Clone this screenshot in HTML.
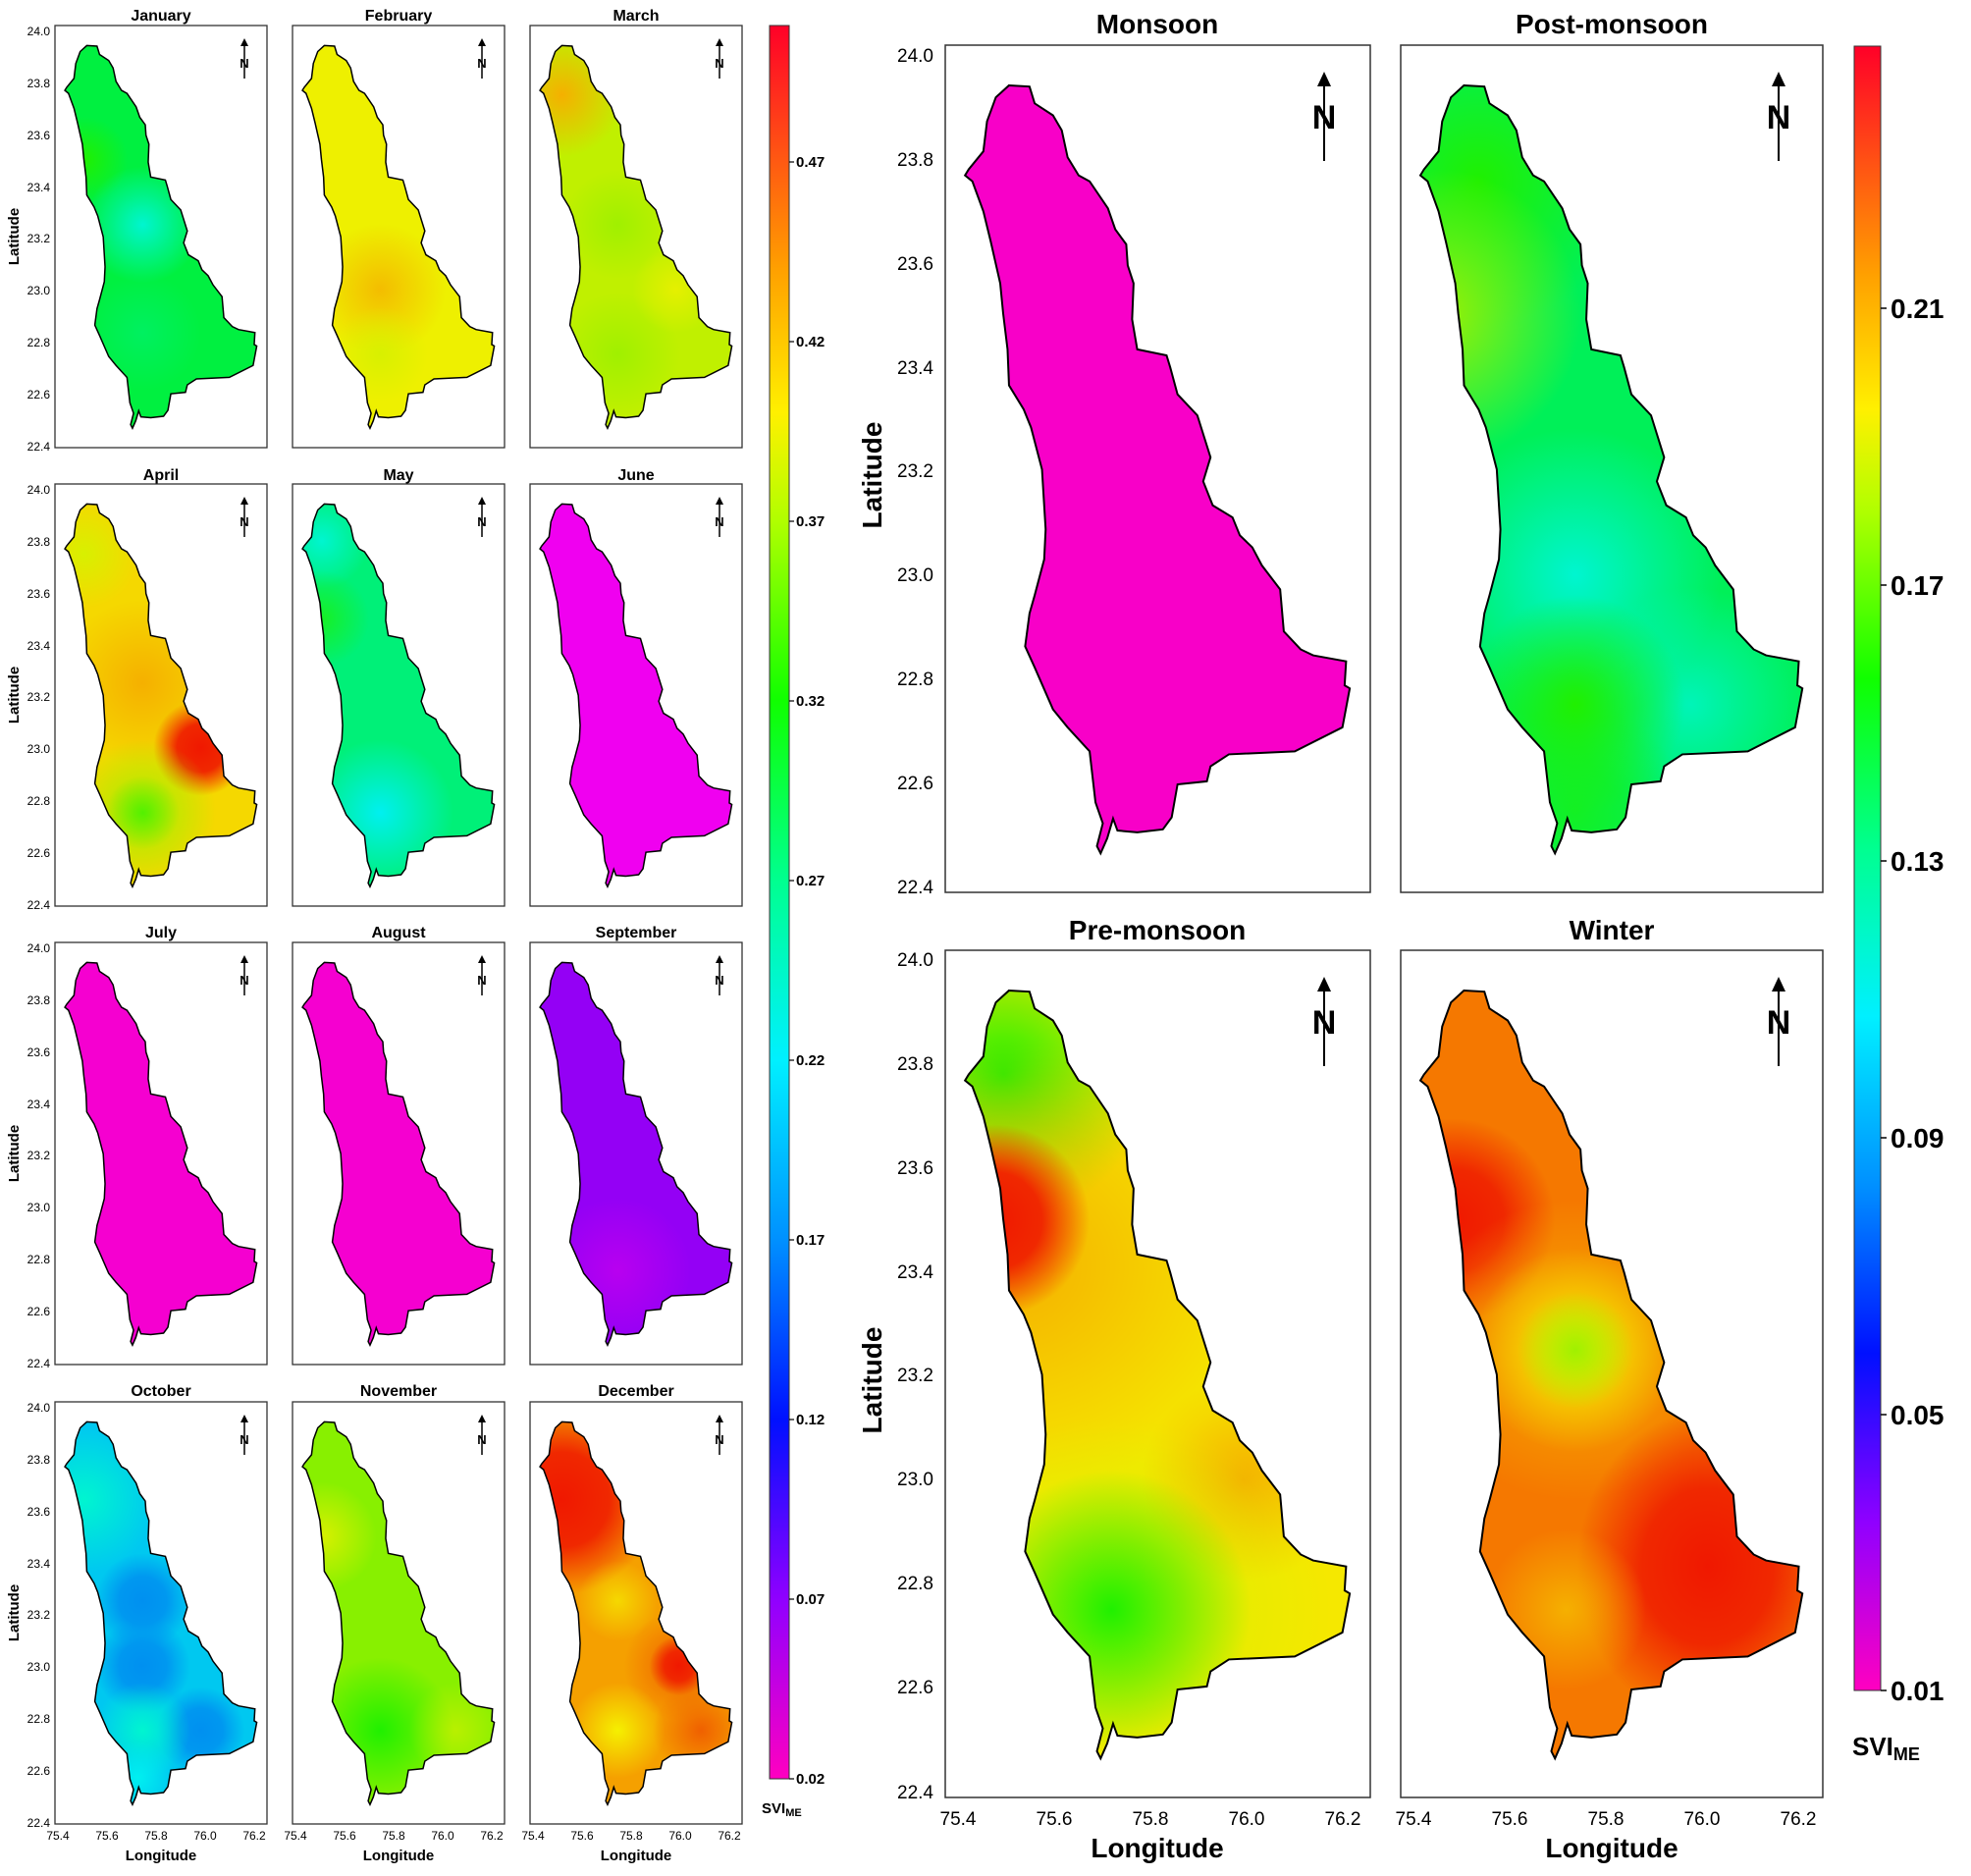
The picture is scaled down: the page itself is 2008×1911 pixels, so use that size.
<!DOCTYPE html>
<html><head><meta charset="utf-8"><style>
html,body{margin:0;padding:0;background:#fff;}
svg{display:block;font-family:"Liberation Sans","DejaVu Sans",sans-serif;}
.st{font-size:16px;font-weight:bold;text-anchor:middle;}
.bt{font-size:28px;font-weight:bold;text-anchor:middle;}
.tk{font-size:12px;}
.btk{font-size:19px;}
.cb{font-size:15px;font-weight:bold;}
.bcb{font-size:28px;font-weight:bold;}
</style></head><body>
<svg width="2008" height="1911" viewBox="0 0 2008 1911" xmlns="http://www.w3.org/2000/svg">
<defs>
<path id="basin" vector-effect="non-scaling-stroke" d="M240,140 L268,142 L275,170 L300,190 L312,215 L320,260 L335,290 L350,300 L375,345 L385,380 L400,405 L402,440 L410,470 L408,530 L415,580 L455,590 L460,610 L470,655 L497,690 L515,760 L505,800 L518,840 L545,860 L555,890 L572,910 L585,940 L610,980 L615,1050 L638,1080 L655,1090 L700,1100 L698,1140 L705,1145 L695,1210 L630,1250 L540,1255 L515,1275 L510,1300 L470,1305 L462,1360 L450,1380 L415,1385 L388,1382 L382,1362 L374,1395 L365,1420 L360,1408 L368,1370 L358,1335 L350,1250 L320,1210 L300,1180 L275,1110 L262,1075 L268,1020 L275,990 L288,930 L290,880 L285,780 L270,710 L260,680 L240,640 L238,580 L232,520 L228,470 L215,400 L205,350 L190,300 L180,290 L185,280 L205,250 L210,200 L222,160 Z"/>
<clipPath id="cp" clipPathUnits="userSpaceOnUse"><use href="#basin"/></clipPath>
<radialGradient id="gCy"><stop offset="0" stop-color="#00f5d0"/><stop offset="1" stop-color="#00f5d0" stop-opacity="0"/></radialGradient>
<radialGradient id="gSg"><stop offset="0" stop-color="#00f080"/><stop offset="1" stop-color="#00f080" stop-opacity="0"/></radialGradient>
<radialGradient id="gGr"><stop offset="0" stop-color="#20f000"/><stop offset="1" stop-color="#20f000" stop-opacity="0"/></radialGradient>
<radialGradient id="gYg"><stop offset="0" stop-color="#a0f000"/><stop offset="1" stop-color="#a0f000" stop-opacity="0"/></radialGradient>
<radialGradient id="gYe"><stop offset="0" stop-color="#f5f000"/><stop offset="1" stop-color="#f5f000" stop-opacity="0"/></radialGradient>
<radialGradient id="gOr"><stop offset="0" stop-color="#f5b000"/><stop offset="1" stop-color="#f5b000" stop-opacity="0"/></radialGradient>
<radialGradient id="gRd"><stop offset="0" stop-color="#f01800"/><stop offset="0.5" stop-color="#f02800"/><stop offset="1" stop-color="#f02800" stop-opacity="0"/></radialGradient>
<radialGradient id="gOR"><stop offset="0" stop-color="#f06000"/><stop offset="1" stop-color="#f06000" stop-opacity="0"/></radialGradient>
<radialGradient id="gBl"><stop offset="0" stop-color="#0090f0"/><stop offset="0.5" stop-color="#0098f0"/><stop offset="1" stop-color="#0098f0" stop-opacity="0"/></radialGradient>
<radialGradient id="gC2"><stop offset="0" stop-color="#00f0f0"/><stop offset="1" stop-color="#00f0f0" stop-opacity="0"/></radialGradient>
<radialGradient id="gPu"><stop offset="0" stop-color="#b800f0"/><stop offset="1" stop-color="#b800f0" stop-opacity="0"/></radialGradient>
<radialGradient id="gLy"><stop offset="0" stop-color="#d8f000"/><stop offset="1" stop-color="#d8f000" stop-opacity="0"/></radialGradient>
<linearGradient id="cbar" x1="0" y1="0" x2="0" y2="1">
<stop offset="0" stop-color="#ff0028"/><stop offset="0.139" stop-color="#ffa000"/><stop offset="0.221" stop-color="#fff000"/><stop offset="0.283" stop-color="#b0ff00"/><stop offset="0.385" stop-color="#10ff00"/><stop offset="0.488" stop-color="#00ff90"/><stop offset="0.59" stop-color="#00f0ff"/><stop offset="0.693" stop-color="#0090ff"/><stop offset="0.795" stop-color="#0010ff"/><stop offset="0.898" stop-color="#9000ff"/><stop offset="1" stop-color="#ff00c0"/>
</linearGradient>
</defs>

<!-- Row 1 -->
<svg x="56" y="26" width="216" height="430" viewBox="153 73 580 1412" preserveAspectRatio="none">
<g clip-path="url(#cp)"><rect x="0" y="0" width="900" height="1600" fill="#00f040"/>
<ellipse cx="233" cy="523" rx="120" ry="146" fill="url(#gGr)"/>
<ellipse cx="393" cy="739" rx="160" ry="195" fill="url(#gCy)"/>
<ellipse cx="393" cy="1100" rx="160" ry="195" fill="url(#gSg)" opacity="0.5"/></g>
<use href="#basin" fill="none" stroke="#000" stroke-width="1.5"/></svg>
<svg x="298" y="26" width="216" height="430" viewBox="153 73 580 1412" preserveAspectRatio="none">
<g clip-path="url(#cp)"><rect width="900" height="1600" fill="#eef000"/>
<ellipse cx="393" cy="956" rx="180" ry="220" fill="url(#gOr)" opacity="0.8"/>
<ellipse cx="393" cy="1172" rx="130" ry="160" fill="url(#gLy)"/></g>
<use href="#basin" fill="none" stroke="#000" stroke-width="1.5"/></svg>
<svg x="540" y="26" width="216" height="430" viewBox="153 73 580 1412" preserveAspectRatio="none">
<g clip-path="url(#cp)"><rect width="900" height="1600" fill="#c0f000"/>
<ellipse cx="240" cy="306" rx="170" ry="207" fill="url(#gOr)"/>
<ellipse cx="393" cy="739" rx="150" ry="183" fill="url(#gYg)"/>
<ellipse cx="393" cy="1172" rx="170" ry="207" fill="url(#gYg)"/>
<ellipse cx="552" cy="956" rx="120" ry="146" fill="url(#gYe)" opacity="0.7"/></g>
<use href="#basin" fill="none" stroke="#000" stroke-width="1.5"/></svg>
<!-- Row 2 -->
<svg x="56" y="493" width="216" height="430" viewBox="153 73 580 1412" preserveAspectRatio="none">
<g clip-path="url(#cp)"><rect width="900" height="1600" fill="#f5d800"/>
<ellipse cx="233" cy="306" rx="150" ry="183" fill="url(#gLy)"/>
<ellipse cx="393" cy="739" rx="230" ry="280" fill="url(#gOr)"/>
<ellipse cx="552" cy="956" rx="130" ry="160" fill="url(#gRd)"/>
<ellipse cx="393" cy="1172" rx="200" ry="244" fill="url(#gYg)"/>
<ellipse cx="393" cy="1172" rx="100" ry="122" fill="url(#gGr)" opacity="0.6"/></g>
<use href="#basin" fill="none" stroke="#000" stroke-width="1.5"/></svg>
<svg x="298" y="493" width="216" height="430" viewBox="153 73 580 1412" preserveAspectRatio="none">
<g clip-path="url(#cp)"><rect width="900" height="1600" fill="#00f078"/>
<ellipse cx="233" cy="263" rx="130" ry="160" fill="url(#gCy)"/>
<ellipse cx="233" cy="523" rx="130" ry="160" fill="url(#gGr)" opacity="0.7"/>
<ellipse cx="393" cy="1172" rx="200" ry="244" fill="url(#gC2)"/></g>
<use href="#basin" fill="none" stroke="#000" stroke-width="1.5"/></svg>
<svg x="540" y="493" width="216" height="430" viewBox="153 73 580 1412" preserveAspectRatio="none">
<g clip-path="url(#cp)"><rect width="900" height="1600" fill="#f000f0"/></g>
<use href="#basin" fill="none" stroke="#000" stroke-width="1.5"/></svg>
<!-- Row 3 -->
<svg x="56" y="960" width="216" height="430" viewBox="153 73 580 1412" preserveAspectRatio="none">
<g clip-path="url(#cp)"><rect width="900" height="1600" fill="#f500d0"/></g>
<use href="#basin" fill="none" stroke="#000" stroke-width="1.5"/></svg>
<svg x="298" y="960" width="216" height="430" viewBox="153 73 580 1412" preserveAspectRatio="none">
<g clip-path="url(#cp)"><rect width="900" height="1600" fill="#f500d0"/></g>
<use href="#basin" fill="none" stroke="#000" stroke-width="1.5"/></svg>
<svg x="540" y="960" width="216" height="430" viewBox="153 73 580 1412" preserveAspectRatio="none">
<g clip-path="url(#cp)"><rect width="900" height="1600" fill="#9400f5"/>
<ellipse cx="393" cy="1172" rx="200" ry="244" fill="url(#gPu)"/></g>
<use href="#basin" fill="none" stroke="#000" stroke-width="1.5"/></svg>
<!-- Row 4 -->
<svg x="56" y="1428" width="216" height="430" viewBox="153 73 580 1412" preserveAspectRatio="none">
<g clip-path="url(#cp)"><rect width="900" height="1600" fill="#00c8f0"/>
<ellipse cx="233" cy="400" rx="200" ry="244" fill="url(#gCy)"/>
<ellipse cx="393" cy="739" rx="130" ry="160" fill="url(#gBl)"/>
<ellipse cx="393" cy="956" rx="130" ry="160" fill="url(#gBl)"/>
<ellipse cx="552" cy="1172" rx="120" ry="146" fill="url(#gBl)"/>
<ellipse cx="393" cy="1172" rx="130" ry="160" fill="url(#gCy)"/>
<ellipse cx="380" cy="1330" rx="100" ry="122" fill="url(#gC2)"/></g>
<use href="#basin" fill="none" stroke="#000" stroke-width="1.5"/></svg>
<svg x="298" y="1428" width="216" height="430" viewBox="153 73 580 1412" preserveAspectRatio="none">
<g clip-path="url(#cp)"><rect width="900" height="1600" fill="#88f000"/>
<ellipse cx="233" cy="523" rx="150" ry="183" fill="url(#gLy)"/>
<ellipse cx="393" cy="1172" rx="200" ry="244" fill="url(#gGr)"/>
<ellipse cx="600" cy="1172" rx="130" ry="160" fill="url(#gLy)" opacity="0.6"/></g>
<use href="#basin" fill="none" stroke="#000" stroke-width="1.5"/></svg>
<svg x="540" y="1428" width="216" height="430" viewBox="153 73 580 1412" preserveAspectRatio="none">
<g clip-path="url(#cp)"><rect width="900" height="1600" fill="#f5a000"/>
<ellipse cx="240" cy="400" rx="260" ry="317" fill="url(#gRd)"/>
<ellipse cx="393" cy="739" rx="110" ry="134" fill="url(#gYe)" opacity="0.7"/>
<ellipse cx="560" cy="956" rx="150" ry="183" fill="url(#gOR)"/>
<ellipse cx="560" cy="956" rx="80" ry="100" fill="url(#gRd)"/>
<ellipse cx="393" cy="1172" rx="130" ry="160" fill="url(#gYe)"/>
<ellipse cx="620" cy="1172" rx="130" ry="160" fill="url(#gOR)"/></g>
<use href="#basin" fill="none" stroke="#000" stroke-width="1.5"/></svg>

<g fill="none" stroke="#333" stroke-width="1.3">
<rect x="56" y="26" width="216" height="430"/><rect x="298" y="26" width="216" height="430"/><rect x="540" y="26" width="216" height="430"/>
<rect x="56" y="493" width="216" height="430"/><rect x="298" y="493" width="216" height="430"/><rect x="540" y="493" width="216" height="430"/>
<rect x="56" y="960" width="216" height="430"/><rect x="298" y="960" width="216" height="430"/><rect x="540" y="960" width="216" height="430"/>
<rect x="56" y="1428" width="216" height="430"/><rect x="298" y="1428" width="216" height="430"/><rect x="540" y="1428" width="216" height="430"/>
</g>
<text class="st" x="164" y="21">January</text><text class="st" x="406" y="21">February</text><text class="st" x="648" y="21">March</text>
<text class="st" x="164" y="489">April</text><text class="st" x="406" y="489">May</text><text class="st" x="648" y="489">June</text>
<text class="st" x="164" y="955">July</text><text class="st" x="406" y="955">August</text><text class="st" x="648" y="955">September</text>
<text class="st" x="164" y="1422">October</text><text class="st" x="406" y="1422">November</text><text class="st" x="648" y="1422">December</text>
<g stroke="#000" stroke-width="1.5">
<line x1="249" y1="46" x2="249" y2="80"/><line x1="491" y1="46" x2="491" y2="80"/><line x1="733" y1="46" x2="733" y2="80"/>
<line x1="249" y1="513" x2="249" y2="547"/><line x1="491" y1="513" x2="491" y2="547"/><line x1="733" y1="513" x2="733" y2="547"/>
<line x1="249" y1="980" x2="249" y2="1014"/><line x1="491" y1="980" x2="491" y2="1014"/><line x1="733" y1="980" x2="733" y2="1014"/>
<line x1="249" y1="1448" x2="249" y2="1482"/><line x1="491" y1="1448" x2="491" y2="1482"/><line x1="733" y1="1448" x2="733" y2="1482"/>
</g>
<g font-size="13" font-weight="bold" text-anchor="middle">
<text x="249" y="69">N</text><text x="491" y="69">N</text><text x="733" y="69">N</text>
<text x="249" y="536">N</text><text x="491" y="536">N</text><text x="733" y="536">N</text>
<text x="249" y="1003">N</text><text x="491" y="1003">N</text><text x="733" y="1003">N</text>
<text x="249" y="1471">N</text><text x="491" y="1471">N</text><text x="733" y="1471">N</text>
</g>
<g fill="#000">
<path d="M245,47 L249,39 L253,47Z"/><path d="M487,47 L491,39 L495,47Z"/><path d="M729,47 L733,39 L737,47Z"/>
<path d="M245,514 L249,506 L253,514Z"/><path d="M487,514 L491,506 L495,514Z"/><path d="M729,514 L733,506 L737,514Z"/>
<path d="M245,981 L249,973 L253,981Z"/><path d="M487,981 L491,973 L495,981Z"/><path d="M729,981 L733,973 L737,981Z"/>
<path d="M245,1449 L249,1441 L253,1449Z"/><path d="M487,1449 L491,1441 L495,1449Z"/><path d="M729,1449 L733,1441 L737,1449Z"/>
</g>
<g class="tk" text-anchor="end">
<text x="51" y="36">24.0</text><text x="51" y="89">23.8</text><text x="51" y="142">23.6</text><text x="51" y="195">23.4</text><text x="51" y="247">23.2</text><text x="51" y="300">23.0</text><text x="51" y="353">22.8</text><text x="51" y="406">22.6</text><text x="51" y="459">22.4</text>
<text x="51" y="503">24.0</text><text x="51" y="556">23.8</text><text x="51" y="609">23.6</text><text x="51" y="662">23.4</text><text x="51" y="714">23.2</text><text x="51" y="767">23.0</text><text x="51" y="820">22.8</text><text x="51" y="873">22.6</text><text x="51" y="926">22.4</text>
<text x="51" y="970">24.0</text><text x="51" y="1023">23.8</text><text x="51" y="1076">23.6</text><text x="51" y="1129">23.4</text><text x="51" y="1181">23.2</text><text x="51" y="1234">23.0</text><text x="51" y="1287">22.8</text><text x="51" y="1340">22.6</text><text x="51" y="1393">22.4</text>
<text x="51" y="1438">24.0</text><text x="51" y="1491">23.8</text><text x="51" y="1544">23.6</text><text x="51" y="1597">23.4</text><text x="51" y="1649">23.2</text><text x="51" y="1702">23.0</text><text x="51" y="1755">22.8</text><text x="51" y="1808">22.6</text><text x="51" y="1861">22.4</text>
</g>
<g class="tk" text-anchor="middle">
<text x="59" y="1874">75.4</text><text x="109" y="1874">75.6</text><text x="159" y="1874">75.8</text><text x="209" y="1874">76.0</text><text x="259" y="1874">76.2</text>
<text x="301" y="1874">75.4</text><text x="351" y="1874">75.6</text><text x="401" y="1874">75.8</text><text x="451" y="1874">76.0</text><text x="501" y="1874">76.2</text>
<text x="543" y="1874">75.4</text><text x="593" y="1874">75.6</text><text x="643" y="1874">75.8</text><text x="693" y="1874">76.0</text><text x="743" y="1874">76.2</text>
</g>
<g font-size="15" font-weight="bold" text-anchor="middle">
<text x="164" y="1895">Longitude</text><text x="406" y="1895">Longitude</text><text x="648" y="1895">Longitude</text>
<text transform="translate(19,241) rotate(-90)">Latitude</text>
<text transform="translate(19,708) rotate(-90)">Latitude</text>
<text transform="translate(19,1175) rotate(-90)">Latitude</text>
<text transform="translate(19,1643) rotate(-90)">Latitude</text>
</g>
<rect x="784" y="26" width="20" height="1786" fill="url(#cbar)" stroke="#333" stroke-width="1"/>
<g stroke="#000" stroke-width="1.2">
<line x1="804" y1="165" x2="809" y2="165"/><line x1="804" y1="348" x2="809" y2="348"/><line x1="804" y1="531" x2="809" y2="531"/><line x1="804" y1="714" x2="809" y2="714"/><line x1="804" y1="897" x2="809" y2="897"/><line x1="804" y1="1080" x2="809" y2="1080"/><line x1="804" y1="1263" x2="809" y2="1263"/><line x1="804" y1="1446" x2="809" y2="1446"/><line x1="804" y1="1629" x2="809" y2="1629"/><line x1="804" y1="1812" x2="809" y2="1812"/>
</g>
<g class="cb">
<text x="811" y="170">0.47</text><text x="811" y="353">0.42</text><text x="811" y="536">0.37</text><text x="811" y="719">0.32</text><text x="811" y="902">0.27</text><text x="811" y="1085">0.22</text><text x="811" y="1268">0.17</text><text x="811" y="1451">0.12</text><text x="811" y="1634">0.07</text><text x="811" y="1817">0.02</text>
<text x="776" y="1847">SVI<tspan font-size="11" dy="3">ME</tspan></text>
</g>

<!-- big panels -->
<svg x="963" y="46" width="433" height="863" viewBox="153 73 580 1412" preserveAspectRatio="none">
<g clip-path="url(#cp)"><rect width="900" height="1600" fill="#f800c8"/></g>
<use href="#basin" fill="none" stroke="#000" stroke-width="2"/></svg>
<svg x="1427" y="46" width="430" height="863" viewBox="153 73 580 1412" preserveAspectRatio="none">
<g clip-path="url(#cp)"><rect width="900" height="1600" fill="#00f058"/>
<ellipse cx="260" cy="300" rx="200" ry="244" fill="url(#gGr)"/>
<ellipse cx="200" cy="523" rx="200" ry="244" fill="url(#gYg)"/>
<ellipse cx="393" cy="956" rx="200" ry="244" fill="url(#gCy)"/>
<ellipse cx="552" cy="1172" rx="160" ry="195" fill="url(#gCy)" opacity="0.8"/>
<ellipse cx="393" cy="1172" rx="150" ry="183" fill="url(#gGr)"/>
<ellipse cx="393" cy="1350" rx="150" ry="183" fill="url(#gGr)" opacity="0.6"/></g>
<use href="#basin" fill="none" stroke="#000" stroke-width="2"/></svg>
<svg x="963" y="968" width="433" height="863" viewBox="153 73 580 1412" preserveAspectRatio="none">
<g clip-path="url(#cp)"><rect width="900" height="1600" fill="#f5e800"/>
<ellipse cx="233" cy="280" rx="200" ry="244" fill="url(#gGr)"/>
<ellipse cx="240" cy="600" rx="360" ry="380" fill="url(#gOr)"/>
<ellipse cx="220" cy="523" rx="130" ry="160" fill="url(#gRd)"/>
<ellipse cx="560" cy="956" rx="140" ry="170" fill="url(#gOr)"/>
<ellipse cx="380" cy="1172" rx="300" ry="320" fill="url(#gLy)"/>
<ellipse cx="380" cy="1172" rx="190" ry="232" fill="url(#gGr)"/></g>
<use href="#basin" fill="none" stroke="#000" stroke-width="2"/></svg>
<svg x="1427" y="968" width="430" height="863" viewBox="153 73 580 1412" preserveAspectRatio="none">
<g clip-path="url(#cp)"><rect width="900" height="1600" fill="#f57800"/>
<ellipse cx="225" cy="523" rx="140" ry="170" fill="url(#gRd)"/>
<ellipse cx="393" cy="739" rx="220" ry="250" fill="url(#gOr)"/>
<ellipse cx="393" cy="739" rx="140" ry="170" fill="url(#gYe)"/>
<ellipse cx="393" cy="739" rx="80" ry="98" fill="url(#gYg)"/>
<ellipse cx="575" cy="1100" rx="180" ry="260" fill="url(#gRd)"/>
<ellipse cx="380" cy="1172" rx="110" ry="134" fill="url(#gOr)"/></g>
<use href="#basin" fill="none" stroke="#000" stroke-width="2"/></svg>
<g fill="none" stroke="#333" stroke-width="1.5">
<rect x="963" y="46" width="433" height="863"/><rect x="1427" y="46" width="430" height="863"/>
<rect x="963" y="968" width="433" height="863"/><rect x="1427" y="968" width="430" height="863"/>
</g>
<text class="bt" x="1179" y="34">Monsoon</text><text class="bt" x="1642" y="34">Post-monsoon</text>
<text class="bt" x="1179" y="957">Pre-monsoon</text><text class="bt" x="1642" y="957">Winter</text>
<g stroke="#000" stroke-width="2">
<line x1="1349" y1="82" x2="1349" y2="164"/><line x1="1812" y1="82" x2="1812" y2="164"/>
<line x1="1349" y1="1004" x2="1349" y2="1086"/><line x1="1812" y1="1004" x2="1812" y2="1086"/>
</g>
<g fill="#000"><path d="M1342,88 L1349,73 L1356,88Z"/><path d="M1805,88 L1812,73 L1819,88Z"/><path d="M1342,1010 L1349,995 L1356,1010Z"/><path d="M1805,1010 L1812,995 L1819,1010Z"/></g>
<g font-size="34" font-weight="bold" text-anchor="middle">
<text x="1349" y="131">N</text><text x="1812" y="131">N</text><text x="1349" y="1053">N</text><text x="1812" y="1053">N</text>
</g>
<g class="btk" text-anchor="end">
<text x="951" y="63">24.0</text><text x="951" y="169">23.8</text><text x="951" y="275">23.6</text><text x="951" y="381">23.4</text><text x="951" y="486">23.2</text><text x="951" y="592">23.0</text><text x="951" y="698">22.8</text><text x="951" y="804">22.6</text><text x="951" y="910">22.4</text>
<text x="951" y="984">24.0</text><text x="951" y="1090">23.8</text><text x="951" y="1196">23.6</text><text x="951" y="1302">23.4</text><text x="951" y="1407">23.2</text><text x="951" y="1513">23.0</text><text x="951" y="1619">22.8</text><text x="951" y="1725">22.6</text><text x="951" y="1832">22.4</text>
</g>
<g class="btk" text-anchor="middle">
<text x="976" y="1859">75.4</text><text x="1074" y="1859">75.6</text><text x="1172" y="1859">75.8</text><text x="1270" y="1859">76.0</text><text x="1368" y="1859">76.2</text>
<text x="1440" y="1859">75.4</text><text x="1538" y="1859">75.6</text><text x="1636" y="1859">75.8</text><text x="1734" y="1859">76.0</text><text x="1832" y="1859">76.2</text>
</g>
<g font-size="28" font-weight="bold" text-anchor="middle">
<text x="1179" y="1892">Longitude</text><text x="1642" y="1892">Longitude</text>
<text transform="translate(898,484) rotate(-90)">Latitude</text>
<text transform="translate(898,1406) rotate(-90)">Latitude</text>
</g>
<rect x="1889" y="47" width="27" height="1675" fill="url(#cbar)" stroke="#333" stroke-width="1"/>
<g stroke="#000" stroke-width="1.5">
<line x1="1916" y1="314" x2="1922" y2="314"/><line x1="1916" y1="596" x2="1922" y2="596"/><line x1="1916" y1="877" x2="1922" y2="877"/><line x1="1916" y1="1159" x2="1922" y2="1159"/><line x1="1916" y1="1441" x2="1922" y2="1441"/><line x1="1916" y1="1722" x2="1922" y2="1722"/>
</g>
<g class="bcb">
<text x="1926" y="324">0.21</text><text x="1926" y="606">0.17</text><text x="1926" y="887">0.13</text><text x="1926" y="1169">0.09</text><text x="1926" y="1451">0.05</text><text x="1926" y="1732">0.01</text>
<text x="1887" y="1788" font-size="26">SVI<tspan font-size="18" dy="5">ME</tspan></text>
</g>
</svg>
</body></html>
